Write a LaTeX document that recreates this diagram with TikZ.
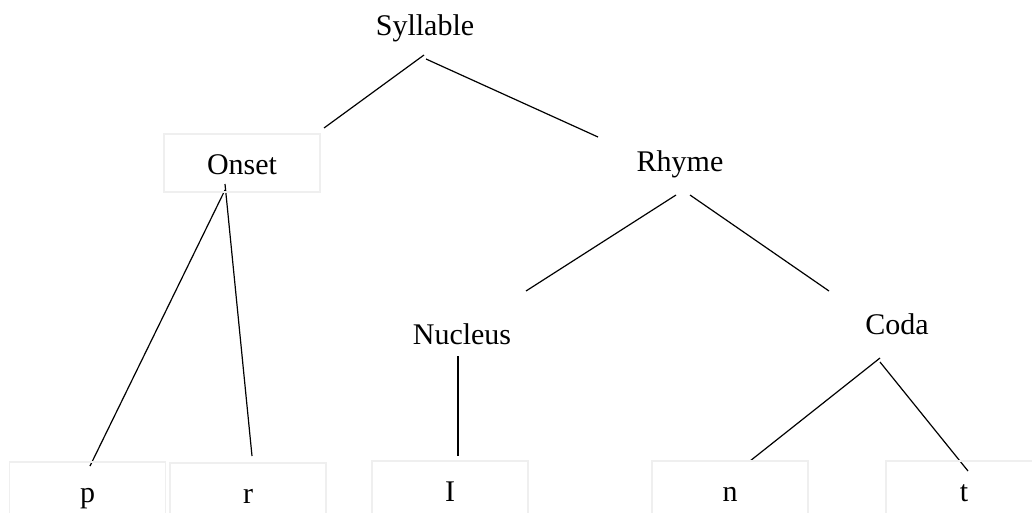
\documentclass[tikz,border=0pt]{standalone}
\usepackage{fontspec}
\setmainfont{Liberation Serif}
\usetikzlibrary{backgrounds}
\pgfdeclarelayer{edgelayer}
\pgfdeclarelayer{nodelayer}
\pgfsetlayers{edgelayer,nodelayer,main}
\definecolor{boxgray}{HTML}{EFEFEF}
\tikzset{font=\fontsize{30}{36}\selectfont}
\tikzstyle{none}=[inner sep=0pt]
\tikzstyle{label}=[inner sep=2pt]
\tikzstyle{box}=[draw=boxgray,line width=1.6pt,minimum width=156pt,minimum height=58pt,inner sep=0pt,text height=26pt,text depth=4pt]
\tikzstyle{branch}=[line width=1.2pt]

\begin{document}
\begin{tikzpicture}[x=1pt,y=-1pt]
	\useasboundingbox (0,0) rectangle (1032,512);
	\begin{pgfonlayer}{nodelayer}
		\node [style=label] (0) at (425, 28) {Syllable};
		\node [style=box] (1) at (242, 163) {Onset};
		\node [style=label] (2) at (680, 164) {Rhyme};
		\node [style=label] (3) at (462, 334) {Nucleus};
		\node [style=label] (4) at (897, 324) {Coda};
		\node [style=box] (5) at (87.5, 491) {p};
		\node [style=box] (6) at (248, 492) {r};
		\node [style=box] (7) at (450, 490) {I};
		\node [style=box] (8) at (730, 490) {n};
		\node [style=box] (9) at (964, 490) {t};
		\node [style=none] (10) at (424, 55) {};
		\node [style=none] (11) at (324, 128) {};
		\node [style=none] (12) at (426, 59) {};
		\node [style=none] (13) at (598, 137) {};
		\node [style=none] (14) at (225, 190) {};
		\node [style=none] (15) at (90, 466) {};
		\node [style=none] (16) at (225, 184) {};
		\node [style=none] (17) at (252, 456) {};
		\node [style=none] (18) at (676, 195) {};
		\node [style=none] (19) at (526, 291) {};
		\node [style=none] (20) at (690, 195) {};
		\node [style=none] (21) at (829, 291) {};
		\node [style=none] (22) at (458, 356) {};
		\node [style=none] (23) at (458, 456) {};
		\node [style=none] (24) at (880, 358) {};
		\node [style=none] (25) at (750, 461) {};
		\node [style=none] (26) at (880, 362) {};
		\node [style=none] (27) at (968, 471) {};
	\end{pgfonlayer}
	\begin{pgfonlayer}{edgelayer}
		\draw [style=branch] (10.center) to (11.center);
		\draw [style=branch] (12.center) to (13.center);
		\draw [style=branch] (14.center) to (15.center);
		\draw [style=branch] (16.center) to (17.center);
		\draw [style=branch] (18.center) to (19.center);
		\draw [style=branch] (20.center) to (21.center);
		\draw [style=branch] (22.center) to (23.center);
		\draw [style=branch] (24.center) to (25.center);
		\draw [style=branch] (26.center) to (27.center);
	\end{pgfonlayer}
\end{tikzpicture}
\end{document}
